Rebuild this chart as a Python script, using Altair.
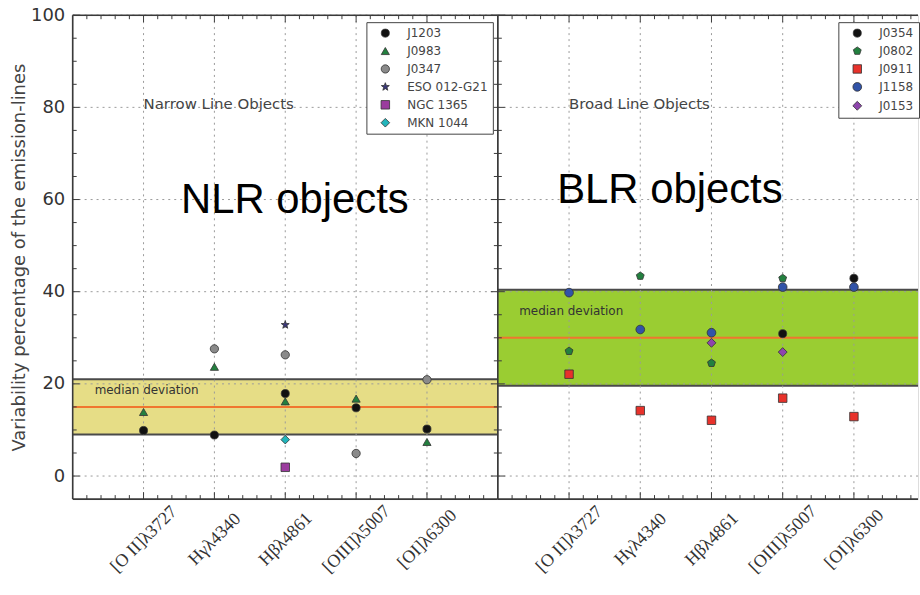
import altair as alt
import numpy as np
import pandas as pd

# Emission lines on the x axis (positions 1..5)
lines = ["[O II]λ3727", "Hγλ4340", "Hβλ4861", "[OIII]λ5007", "[OI]λ6300"]

# Narrow line objects: variability (%) per emission line, None = not measured
nlr_names = ["J1203", "J0983", "J0347", "ESO 012-G21", "NGC 1365", "MKN 1044"]
j1203 = [9.9, 8.9, 17.9, 14.8, 10.2]
j0983 = [13.9, 23.7, 16.2, 16.8, 7.4]
j0347 = [None, 27.6, 26.3, 4.9, 20.9]
eso012 = [None, None, 32.8, None, None]
ngc1365 = [None, None, 1.9, None, None]
mkn1044 = [None, None, 7.9, None, None]

# Broad line objects
blr_names = ["J0354", "J0802", "J0911", "J1158", "J0153"]
j0354 = [None, None, None, 30.9, 42.9]
j0802 = [27.1, 43.4, 24.5, 42.9, None]
j0911 = [22.1, 14.2, 12.1, 16.9, 12.9]
j1158 = [39.8, 31.8, 31.1, 41.0, 41.0]
j0153 = [None, None, 28.9, 26.9, None]

# Median and median-deviation band of each group
nlr_median = 15.0
nlr_band = [9.0, 21.0]
blr_median = 30.0
blr_band = [19.6, 40.4]

y_ticks = [0, 20, 40, 60, 80, 100]


def polygon_path(n, inner=None):
    """Unit-box SVG path for a regular polygon or (with inner radius) a star."""
    pts = []
    steps = 2 * n if inner else n
    for k in range(steps):
        r = inner if (inner and k % 2) else 1.0
        a = -np.pi / 2 + k * 2 * np.pi / steps
        pts.append(f"{r * np.cos(a):.3f},{r * np.sin(a):.3f}")
    return "M" + " L".join(pts) + " Z"


STAR = polygon_path(5, inner=0.42)
PENTAGON = polygon_path(5)

nlr_style = dict(
    shapes=["circle", "triangle-up", "circle", STAR, "square", "diamond"],
    colors=["#111111", "#23803f", "#8a8a8a", "#3b3878", "#9b3c9e", "#22b5bb"],
    sizes=[65, 75, 60, 90, 75, 115],
)
blr_style = dict(
    shapes=["circle", PENTAGON, "square", "circle", "diamond"],
    colors=["#111111", "#23803f", "#e8322b", "#3153a8", "#8e45ad"],
    sizes=[65, 80, 90, 60, 120],
)


def long_table(names, series):
    rows = []
    for name, vals in zip(names, series):
        for i, v in enumerate(vals):
            if v is not None:
                rows.append({"obj": name, "pos": i + 1, "value": v})
    return pd.DataFrame(rows)


nlr_df = long_table(nlr_names, [j1203, j0983, j0347, eso012, ngc1365, mkn1044])
blr_df = long_table(blr_names, [j0354, j0802, j0911, j1158, j0153])

H = 486
SPINE = "#3a3a3a"
label_expr = "[" + ",".join(f"'{s}'" for s in lines) + "][datum.value - 1]"


def panel(df, names, style, band, median, fill, x_max, W, legend_x,
          title_text, big_text, big_xy, dev_xy, y_axis, right_spine):
    xs = alt.Scale(domain=[0, x_max], nice=False, zero=False)
    ys = alt.Scale(domain=[-5, 100], nice=False, zero=False)
    one = pd.DataFrame({"k": [0]})

    def X(field="pos:Q"):
        return alt.X(field, scale=xs)

    def Y(field="value:Q"):
        # the panel without a y axis keeps it switched off in every layer
        return alt.Y(field, scale=ys) if y_axis else alt.Y(field, scale=ys, axis=None)

    band_rect = alt.Chart(pd.DataFrame({"value": [band[0]], "hi": [band[1]]})).mark_rect(
        fill=fill
    ).encode(y=Y(), y2="hi:Q", x=alt.value(0), x2=alt.value(W))
    band_edges = alt.Chart(pd.DataFrame({"value": band})).mark_rule(
        color="#4a4a4a", strokeWidth=2
    ).encode(y=Y(), x=alt.value(0), x2=alt.value(W))
    median_line = alt.Chart(pd.DataFrame({"value": [median]})).mark_rule(
        color="#f0762f", strokeWidth=2
    ).encode(y=Y(), x=alt.value(0), x2=alt.value(W))

    grid_v = alt.Chart(pd.DataFrame({"pos": list(range(1, len(lines) + 1))})).mark_rule(
        color="#9a9a9a", strokeDash=[2, 4], strokeWidth=1
    ).encode(x=X(), y=alt.value(0), y2=alt.value(H))
    grid_h = alt.Chart(pd.DataFrame({"value": y_ticks})).mark_rule(
        color="#9a9a9a", strokeDash=[2, 4], strokeWidth=1
    ).encode(y=Y(), x=alt.value(0), x2=alt.value(W))

    # inward tick marks on the frame
    y_minor = [v for v in range(5, 100, 5) if v % 20]
    x_major = list(range(1, len(lines) + 1))
    x_minor = [round(v, 1) for v in np.arange(0.2, x_max, 0.2) if abs(v - round(v)) > 1e-6]
    tick_layers = []
    edges = [0, W] if right_spine else [0]
    for vals, L in ((y_ticks, 7), (y_minor, 4)):
        for ex in edges:
            x0, x1 = (ex, ex + L) if ex == 0 else (ex - L, ex)
            tick_layers.append(
                alt.Chart(pd.DataFrame({"value": vals})).mark_rule(color=SPINE, strokeWidth=1)
                .encode(y=Y(), x=alt.value(x0), x2=alt.value(x1))
            )
    for vals, L in ((x_major, 7), (x_minor, 4)):
        for y0, y1 in ((0, L), (H - L, H)):
            tick_layers.append(
                alt.Chart(pd.DataFrame({"pos": vals})).mark_rule(color=SPINE, strokeWidth=1)
                .encode(x=X(), y=alt.value(y0), y2=alt.value(y1))
            )

    spines = [
        alt.Chart(one).mark_rule(color=SPINE, strokeWidth=1.6)
        .encode(x=alt.value(0), x2=alt.value(W), y=alt.value(0)),
        alt.Chart(one).mark_rule(color=SPINE, strokeWidth=1.6)
        .encode(x=alt.value(0), x2=alt.value(W), y=alt.value(H)),
        alt.Chart(one).mark_rule(color=SPINE, strokeWidth=1.6)
        .encode(x=alt.value(0), y=alt.value(0), y2=alt.value(H)),
    ]
    if right_spine:
        spines.append(
            alt.Chart(one).mark_rule(color=SPINE, strokeWidth=1.6)
            .encode(x=alt.value(W), y=alt.value(0), y2=alt.value(H))
        )

    group_title = alt.Chart(pd.DataFrame({"pos": [1.0], "value": [80.7], "t": [title_text]})).mark_text(
        align="left", baseline="middle", font="DejaVu Sans", fontSize=15, color="#444444"
    ).encode(x=X(), y=Y(), text="t:N")
    big = alt.Chart(pd.DataFrame({"pos": [big_xy[0]], "value": [big_xy[1]], "t": [big_text]})).mark_text(
        align="left", baseline="alphabetic", font="Liberation Sans", fontSize=42, color="#000000"
    ).encode(x=X(), y=Y(), text="t:N")
    dev = alt.Chart(pd.DataFrame({"pos": [dev_xy[0]], "value": [dev_xy[1]], "t": ["median deviation"]})).mark_text(
        align="left", baseline="middle", font="DejaVu Sans", fontSize=12, color="#333333"
    ).encode(x=X(), y=Y(), text="t:N")

    legend = alt.Legend(
        title=None, orient="none", legendX=legend_x, legendY=7, direction="vertical",
        padding=5, rowPadding=6, symbolOffset=8, labelOffset=16,
        labelFont="DejaVu Sans", labelFontSize=12, labelColor="#444444",
        strokeColor="#444444", fillColor="white", symbolSize=70,
        symbolStrokeColor="#333333", symbolStrokeWidth=0.8,
    )
    x_axis = alt.Axis(
        values=x_major, labelExpr=label_expr, labelAngle=315, labelAlign="center",
        labelBaseline="middle", labelPadding=40, tickSize=0, ticks=False, grid=False, domain=False,
        title=None, labelFont="Liberation Serif", labelFontSize=18, labelColor="#333333",
        labelFlush=False, labelOverlap=False, labelBound=False,
    )
    if y_axis:
        y_enc = alt.Y("value:Q", scale=ys, axis=alt.Axis(
            values=y_ticks, title="Variability percentage of the emission-lines",
            grid=False, domain=False, tickSize=0, ticks=False, labelPadding=8,
            labelFont="DejaVu Sans", labelFontSize=18, labelColor="#333333",
            titleFont="DejaVu Sans", titleFontSize=18, titleFontWeight="normal",
            titleColor="#444444", titlePadding=2, labelFlush=False, labelOverlap=False,
        ))
    else:
        y_enc = alt.Y("value:Q", scale=ys, axis=None)

    points = alt.Chart(df).mark_point(
        filled=True, opacity=1, stroke="#333333", strokeWidth=0.8
    ).encode(
        x=alt.X("pos:Q", scale=xs, axis=x_axis),
        y=y_enc,
        color=alt.Color("obj:N", scale=alt.Scale(domain=names, range=style["colors"]), legend=legend, sort=names),
        shape=alt.Shape("obj:N", scale=alt.Scale(domain=names, range=style["shapes"]), legend=legend, sort=names),
        size=alt.Size("obj:N", scale=alt.Scale(domain=names, range=style["sizes"]), legend=None),
    )

    return alt.layer(
        band_rect, band_edges, median_line, grid_v, grid_h, *tick_layers, *spines,
        group_title, big, dev, points,
    ).properties(width=W, height=H)


left = panel(nlr_df, nlr_names, nlr_style, nlr_band, nlr_median, "#e6dd86", 6.0, 427, 295,
             "Narrow Line Objects", "NLR objects", (1.53, 57.0), (0.31, 18.7), True, True)
right = panel(blr_df, blr_names, blr_style, blr_band, blr_median, "#9acd32", 5.9, 422, 342,
              "Broad Line Objects", "BLR objects", (0.834, 59.2), (0.30, 35.8), False, False)

chart = alt.hconcat(left, right, spacing=0, bounds="flush").resolve_scale(
    color="independent", shape="independent", size="independent", x="independent", y="independent"
).configure_view(strokeWidth=0).configure_legend(strokeWidth=1.5).configure(
    padding={"left": 10, "top": 4, "right": 0, "bottom": 0}, background="white"
)

chart.save("out.html", embed_options={"renderer": "svg", "actions": False})
